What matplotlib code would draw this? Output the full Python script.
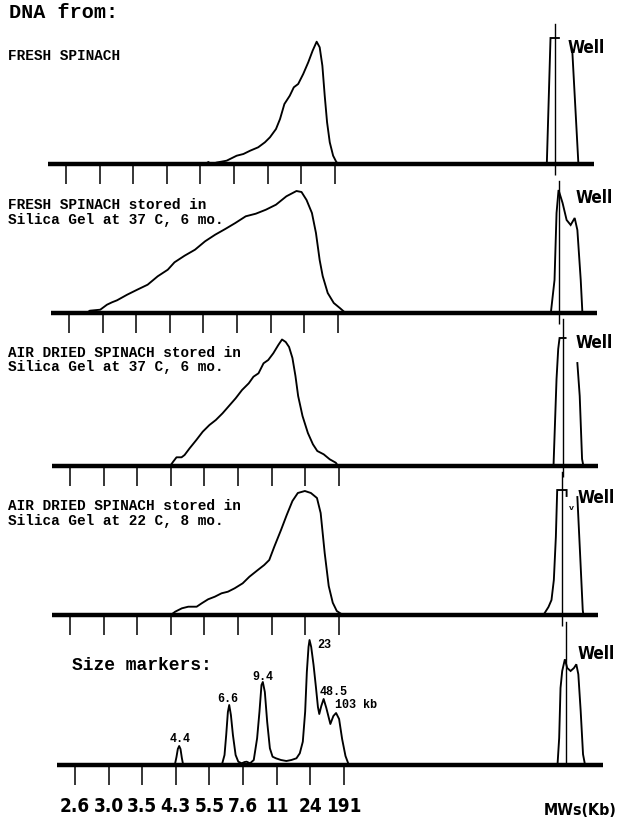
import numpy as np
import matplotlib
matplotlib.use("Agg")
import matplotlib.pyplot as plt
from matplotlib import font_manager as fm

nan = np.nan

# ---------------- data (scan position in tick units, signal height) ----------------
tick_labels = ["2.6", "3.0", "3.5", "4.3", "5.5", "7.6", "11", "24", "191"]

panel_titles = [
    ["FRESH SPINACH"],
    ["FRESH SPINACH stored in", "Silica Gel at 37 C, 6 mo."],
    ["AIR DRIED SPINACH stored in", "Silica Gel at 37 C, 6 mo."],
    ["AIR DRIED SPINACH stored in", "Silica Gel at 22 C, 8 mo."],
    [],
]

p1_u = [4.14, 4.24, 4.30, 4.39, 4.49, 4.78, 5.08, 5.28, 5.48, 5.72, 5.92, 6.07, 6.25, 6.37, 6.50,
        6.66, 6.78, 6.91, 7.06, 7.21, 7.34, 7.46, 7.55, 7.63, 7.70, 7.77, 7.85, 7.95, 8.05, 8.15]
p1_h = [0, 2, 0, 0.5, 1.5, 3.3, 8.3, 10, 13.3, 16.7, 21.7, 26.7, 35, 45, 60,
        68.3, 76.7, 80, 90, 101.7, 113.3, 122.3, 116.7, 98.3, 68.3, 41.7, 21.7, 8.3, 1.7, 0]
p1_well_u = [14.31, 14.42, 14.67, nan, 15.07, 15.25]
p1_well_h = [0, 126, 126, nan, 112, 0]

p2_u = [0.52, 0.62, 0.93, 1.13, 1.28, 1.43, 1.73, 2.03, 2.34, 2.64, 2.94, 3.14, 3.44, 3.75, 4.05,
        4.35, 4.65, 4.95, 5.26, 5.56, 5.86, 6.16, 6.47, 6.77, 6.92, 7.07, 7.23, 7.35, 7.46, 7.55,
        7.70, 7.88, 8.06, 8.23]
p2_h = [0, 2.3, 3.3, 8.3, 10.7, 12.7, 18.3, 23.3, 28.3, 36.7, 43.3, 50.7, 57.3, 63.3, 71.7,
        78.3, 84, 90, 96.7, 99.3, 103.3, 108.3, 116.7, 122, 121, 113, 100, 80, 53, 37,
        20, 10, 5, 0]
p2_well_u = [14.34, 14.45, 14.51, 14.57, 14.69, 14.81, 14.93, 15.05, 15.13, 15.23, 15.28]
p2_well_h = [0, 33, 100, 123, 110, 93, 88, 95, 83, 33, 0]

p3_u = [2.98, 3.07, 3.17, 3.32, 3.41, 3.56, 3.76, 3.95, 4.15, 4.34, 4.54, 4.73, 4.93, 5.12, 5.32,
        5.46, 5.61, 5.76, 5.90, 6.05, 6.20, 6.31, 6.42, 6.52, 6.62, 6.71, 6.79, 6.92, 7.08, 7.23,
        7.36, 7.55, 7.73, 7.91, 7.98]
p3_h = [0, 4.3, 8.7, 8.7, 11, 17.7, 26, 34.3, 41, 46, 52.7, 60, 67.7, 76, 82.7,
        89.3, 92.7, 102.7, 106, 112.7, 121, 126.5, 124, 119, 108, 90, 70, 50, 33, 21.7,
        15, 11.7, 6.7, 3.3, 0]
p3_well_u = [14.39, 14.48, 14.53, 14.57, 14.75, nan, 15.10, 15.17, 15.24, 15.28]
p3_well_h = [0, 87, 117, 128, 128, nan, 103, 70, 7, 0]

p4_u = [3.00, 3.13, 3.33, 3.52, 3.77, 3.92, 4.11, 4.31, 4.51, 4.70, 4.90, 5.14, 5.34, 5.59, 5.78,
        5.93, 6.08, 6.28, 6.45, 6.62, 6.78, 6.99, 7.17, 7.35, 7.46, 7.58, 7.70, 7.82, 7.94, 8.12]
p4_h = [0, 3.3, 6.7, 8.3, 8.3, 11.7, 15.7, 18.3, 21.7, 23.3, 26.7, 31.7, 38.3, 45, 50,
        55, 68.3, 85, 100, 114, 122, 124, 122, 117, 102, 62, 29, 12.3, 4, 0]
p4_well_u = [14.09, 14.24, 14.33, 14.40, 14.46, 14.50, 14.78, 14.78, nan, 15.10, 15.18, 15.26, 15.28]
p4_well_h = [0, 8, 15, 35, 78, 125, 125, 119, nan, 118, 62, 5, 0]

p5_u = [2.97, 3.02, 3.06, 3.10, 3.14, 3.18, 3.22, 4.37, 4.45, 4.50, 4.55, 4.59, 4.64, 4.70, 4.78,
        4.86, 4.96, 5.05, 5.11, 5.21, 5.32, 5.42, 5.49, 5.55, 5.59, 5.65, 5.72, 5.80, 5.88, 5.98,
        6.13, 6.29, 6.44, 6.59, 6.69, 6.78, 6.85, 6.90, 6.95, 6.98, 7.03, 7.10, 7.17, 7.23, 7.27,
        7.33, 7.40, 7.48, 7.60, 7.69, 7.77, 7.86, 7.95, 8.05, 8.15]
p5_h = [0, 8, 16, 19, 16, 7, 0, 0, 10, 30, 53, 60, 50, 30, 10,
        3.3, 1.7, 3, 3.3, 1.7, 5, 26.7, 53.3, 80, 83, 73, 43, 16.7, 8.3, 6.7,
        5, 4, 5, 6.7, 11.7, 23.3, 53.3, 93, 118, 125, 118, 100, 78, 58, 51,
        59, 66, 57, 41, 49, 52, 46, 26, 9, 0]
p5_well_u = [14.36, 14.41, 14.45, 14.50, 14.58, 14.65, 14.75, 14.85, 14.92, 14.98, 15.05, 15.12, 15.18]
p5_well_h = [0, 27, 77, 94, 105.7, 97, 94, 97, 100.7, 90.7, 54, 10.7, 0]

marker_labels = ["4.4", "6.6", "9.4", "23", "48.5", "103 kb"]

well_line_u = [14.55, 14.57, 14.68, 14.65, 14.60]
well_line_top = [140, 132, 147, 143, 143]

traces = [(p1_u, p1_h), (p2_u, p2_h), (p3_u, p3_h), (p4_u, p4_h), (p5_u, p5_h)]
wells = [(p1_well_u, p1_well_h), (p2_well_u, p2_well_h), (p3_well_u, p3_well_h),
         (p4_well_u, p4_well_h), (p5_well_u, p5_well_h)]

# ---------------- layout ----------------
W, H = 621, 820
fig = plt.figure(figsize=(W / 100, H / 100), dpi=100)
fig.patch.set_facecolor("white")

baselines = [165, 314, 467, 616, 766]
x_origin = [66, 69, 70, 70, 75]
S = 33.6
XMIN, XMAX = -0.55, 15.7
HMAX = 140

entries = fm.fontManager.ttflist
names = {f.name for f in entries}
has_dv_cond = any(f.name == "DejaVu Sans" and str(f.stretch) in ("condensed", "semi-condensed", "600", "700")
                  for f in entries)
if "Liberation Sans Narrow" in names:
    cond = dict(family="Liberation Sans Narrow", fontweight="bold")
    cscale = 1.0
elif has_dv_cond:
    cond = dict(family="DejaVu Sans", fontweight="bold", fontstretch="condensed")
    cscale = 0.88
else:
    cond = dict(family="DejaVu Sans", fontweight="bold")
    cscale = 0.76
mono = dict(family=["Liberation Mono", "DejaVu Sans Mono"], fontweight="bold")


def fx(x):
    return x / W


def fy(y):
    return 1 - y / H


fig.text(fx(9), fy(18), "DNA from:", fontsize=14.5, va="baseline", ha="left", **mono)

title_baselines = [[60], [209, 224], [357, 371], [510, 525], []]
well_label_pos = [(568, 52), (576, 202), (576, 347), (578, 502), (578, 658)]

LW = 1.35
axes = []
for i in range(5):
    left = x_origin[i] + S * XMIN
    width = S * (XMAX - XMIN)
    ax = fig.add_axes([fx(left), fy(baselines[i]), width / W, HMAX / H])
    ax.set_xlim(XMIN, XMAX)
    ax.set_ylim(0, HMAX)
    ax.patch.set_visible(False)
    for s in ["top", "right", "left"]:
        ax.spines[s].set_visible(False)
    ax.spines["bottom"].set_linewidth(3.2)
    ax.spines["bottom"].set_capstyle("butt")
    ax.set_yticks([])
    ax.set_xticks(range(len(tick_labels)))
    ax.tick_params(axis="x", which="major", direction="out", length=14.5, width=1.1, color="black")
    if i < 4:
        ax.set_xticks([well_line_u[i]], minor=True)
        ax.tick_params(axis="x", which="minor", direction="out", length=8, width=1.0)
        ax.set_xticklabels([])
    else:
        ax.set_xticklabels(tick_labels)
        ax.tick_params(axis="x", which="major", pad=8)
        for lab in ax.get_xticklabels():
            lab.set_fontsize(15.5 * cscale)
            lab.set_fontfamily(cond["family"])
            lab.set_fontweight("bold")
            if "fontstretch" in cond:
                lab.set_fontstretch(cond["fontstretch"])

    u, h = traces[i]
    ax.plot(u, h, color="black", lw=LW, solid_joinstyle="round", clip_on=False)
    wu, wh = wells[i]
    ax.plot(wu, wh, color="black", lw=LW, solid_joinstyle="miter", clip_on=False)
    ax.axvline(well_line_u[i], ymin=0, ymax=well_line_top[i] / HMAX, color="black", lw=1.0,
               clip_on=False)

    for line, yb in zip(panel_titles[i], title_baselines[i]):
        fig.text(fx(8), fy(yb), line, fontsize=10.4, va="baseline", ha="left", **mono)

    wx, wyb = well_label_pos[i]
    fig.text(fx(wx), fy(wyb + 1), "Well", fontsize=14 * cscale, va="baseline", ha="left", **cond)
    axes.append(ax)

# small mark in panel 4 near the well
axes[3].text(14.91, 106, "v", fontsize=6, ha="center", va="baseline", **mono)

# size marker annotations
ax5 = axes[4]
fig.text(fx(72), fy(670), "Size markers:", fontsize=13, va="baseline", ha="left", **mono)
marker_text_pos = [(3.13, 24, "center"), (4.55, 64, "center"), (5.60, 86, "center"),
                   (7.20, 118, "left"), (7.29, 71, "left"), (7.74, 58, "left")]
for lab, (mu, mh, ha) in zip(marker_labels, marker_text_pos):
    ax5.text(mu, mh, lab, fontsize=8.5, ha=ha, va="baseline", **mono)

fig.text(fx(617), fy(815), "MWs(Kb)", fontsize=13 * cscale, va="baseline", ha="right", **cond)

fig.savefig("out.png", dpi=100, facecolor="white")
